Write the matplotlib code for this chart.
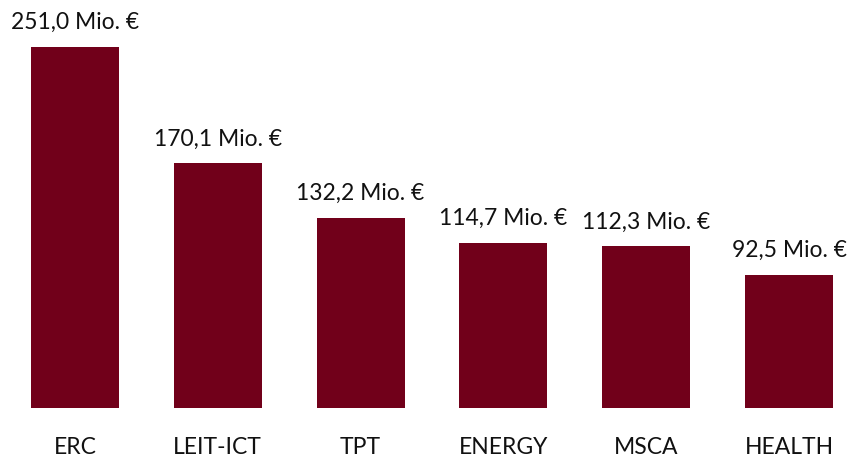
import matplotlib
matplotlib.use("Agg")
import matplotlib.pyplot as plt

categories = ["ERC", "LEIT-ICT", "TPT", "ENERGY", "MSCA", "HEALTH"]
values = [251.0, 170.1, 132.2, 114.7, 112.3, 92.5]
labels = ["251,0 Mio. €", "170,1 Mio. €", "132,2 Mio. €", "114,7 Mio. €", "112,3 Mio. €", "92,5 Mio. €"]

plt.rcParams['font.family'] = ['Lato', 'DejaVu Sans']

fig = plt.figure(figsize=(8.58, 4.57), dpi=100)
ax = fig.add_axes([3.5/858, 49/457, 857/858, 402.7/457])
x = range(len(categories))
bars = ax.bar(x, values, width=0.615, color="#71001a")
for xi, v, lab in zip(x, values, labels):
    ax.annotate(lab, (xi, v), xytext=(0, 10), textcoords="offset points",
                ha="center", va="bottom", fontsize=16.5, color="#111111")
ax.set_xlim(-0.5, 5.5)
ax.set_ylim(0, 280)
ax.set_xticks(list(x))
ax.set_xticklabels(categories, fontsize=16.5, color="#111111")
ax.tick_params(axis="x", length=0, pad=21)
ax.set_yticks([])
for s in ax.spines.values():
    s.set_visible(False)
fig.savefig("out.png", dpi=100)
